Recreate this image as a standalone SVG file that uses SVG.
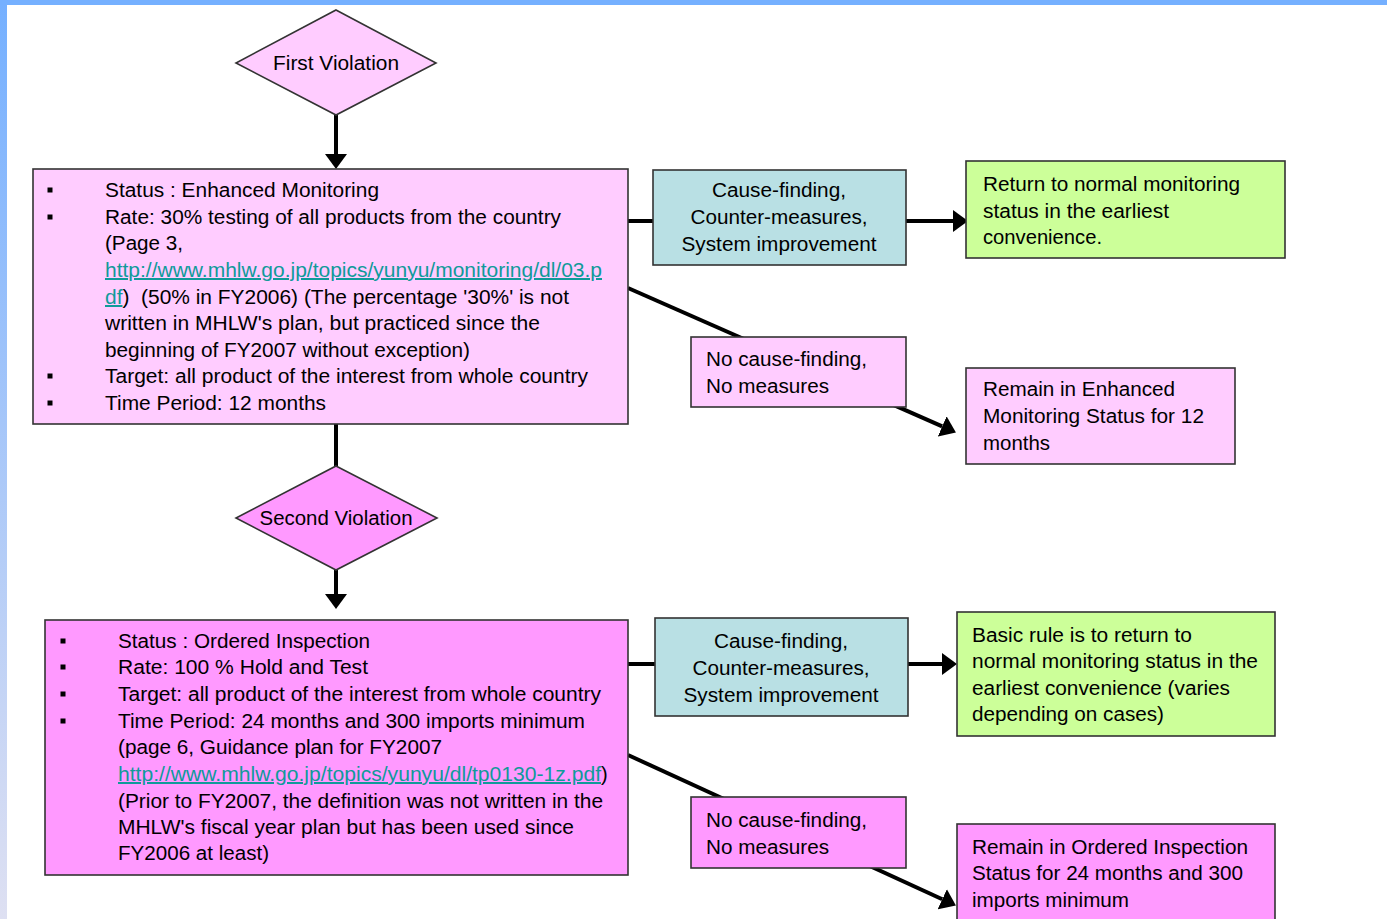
<svg xmlns="http://www.w3.org/2000/svg" width="1387" height="919" viewBox="0 0 1387 919">
<defs>
  <linearGradient id="sidebar" x1="0" y1="0" x2="0" y2="1">
    <stop offset="0" stop-color="#75b0ff"/>
    <stop offset="1" stop-color="#dee0f2"/>
  </linearGradient>
  <marker id="arrow" markerUnits="userSpaceOnUse" markerWidth="15" markerHeight="22" refX="0" refY="11" orient="auto" viewBox="0 0 15 22">
    <path d="M0,0 L15,11 L0,22 Z" fill="#000"/>
  </marker>
  <style>
    .t { font-family: "Liberation Sans", Arial, sans-serif; font-size: 20px; fill: #000; }
    .c { text-anchor: middle; }
    .link { fill: #109a9a; text-decoration: underline; }
    .box { stroke: #333; stroke-width: 1.6; }
    .lp { fill: #ffccff; }
    .dp { fill: #ff99ff; }
    .teal { fill: #b9e0e4; }
    .green { fill: #ccff99; }
    .conn { stroke: #000; stroke-width: 4; fill: none; }
    .bul { fill: #000; }
  </style>
</defs>
<rect x="0" y="0" width="1387" height="919" fill="#ffffff"/>
<rect x="0" y="0" width="7" height="919" fill="url(#sidebar)"/>
<rect x="0" y="0" width="1387" height="5" fill="#75b0ff"/>

<g id="connectors">
  <line class="conn" x1="336" y1="115" x2="336" y2="154" marker-end="url(#arrow)"/>
  <line class="conn" x1="628" y1="221" x2="653" y2="221"/>
  <line class="conn" x1="906" y1="221" x2="953" y2="221" marker-end="url(#arrow)"/>
  <line class="conn" x1="628" y1="288" x2="942.2" y2="426.4" marker-end="url(#arrow)"/>
  <line class="conn" x1="336" y1="424" x2="336" y2="466"/>
  <line class="conn" x1="336" y1="570" x2="336" y2="594" marker-end="url(#arrow)"/>
  <line class="conn" x1="628" y1="664" x2="655" y2="664"/>
  <line class="conn" x1="908" y1="664" x2="942" y2="664" marker-end="url(#arrow)"/>
  <line class="conn" x1="628" y1="755" x2="942.3" y2="899.2" marker-end="url(#arrow)"/>
</g>

<g id="first-violation">
  <polygon class="box lp" points="336,10 436,63 336,115 236,63"/>
  <text class="t c" x="336" y="70" textLength="126" lengthAdjust="spacingAndGlyphs">First Violation</text>
</g>

<g id="enhanced-monitoring">
  <rect class="box lp" x="33" y="169" width="595" height="255"/>
  <rect class="bul" x="47.5" y="187.5" width="5" height="5"/>
  <rect class="bul" x="47.5" y="214.5" width="5" height="5"/>
  <rect class="bul" x="47.5" y="373.5" width="5" height="5"/>
  <rect class="bul" x="47.5" y="400.5" width="5" height="5"/>
  <text class="t" x="105" y="197" textLength="274" lengthAdjust="spacingAndGlyphs">Status : Enhanced Monitoring</text>
  <text class="t" x="105" y="224" textLength="456" lengthAdjust="spacingAndGlyphs">Rate: 30% testing of all products from the country</text>
  <text class="t" x="105" y="250" textLength="78" lengthAdjust="spacingAndGlyphs">(Page 3,</text>
  <text class="t link" x="105" y="277" textLength="497" lengthAdjust="spacingAndGlyphs">http://www.mhlw.go.jp/topics/yunyu/monitoring/dl/03.p</text>
  <text class="t" x="105" y="304" xml:space="preserve" textLength="464" lengthAdjust="spacingAndGlyphs"><tspan class="link">df</tspan><tspan>)  (50% in FY2006) (The percentage '30%' is not</tspan></text>
  <text class="t" x="105" y="330" textLength="435" lengthAdjust="spacingAndGlyphs">written in MHLW's plan, but practiced since the</text>
  <text class="t" x="105" y="357" textLength="365" lengthAdjust="spacingAndGlyphs">beginning of FY2007 without exception)</text>
  <text class="t" x="105" y="383" textLength="483" lengthAdjust="spacingAndGlyphs">Target: all product of the interest from whole country</text>
  <text class="t" x="105" y="410" textLength="221" lengthAdjust="spacingAndGlyphs">Time Period: 12 months</text>
</g>

<g id="cause-1">
  <rect class="box teal" x="653" y="170" width="253" height="95"/>
  <text class="t c" x="779" y="197" textLength="134" lengthAdjust="spacingAndGlyphs">Cause-finding,</text>
  <text class="t c" x="779" y="224" textLength="177" lengthAdjust="spacingAndGlyphs">Counter-measures,</text>
  <text class="t c" x="779" y="251" textLength="195" lengthAdjust="spacingAndGlyphs">System improvement</text>
</g>

<g id="return-normal-1">
  <rect class="box green" x="966" y="161" width="319" height="97"/>
  <text class="t" x="983" y="191" textLength="257" lengthAdjust="spacingAndGlyphs">Return to normal monitoring</text>
  <text class="t" x="983" y="218" textLength="186" lengthAdjust="spacingAndGlyphs">status in the earliest</text>
  <text class="t" x="983" y="244" textLength="119" lengthAdjust="spacingAndGlyphs">convenience.</text>
</g>

<g id="no-cause-1">
  <rect class="box lp" x="691" y="337" width="215" height="70"/>
  <text class="t" x="706" y="366" textLength="161" lengthAdjust="spacingAndGlyphs">No cause-finding,</text>
  <text class="t" x="706" y="393" textLength="123" lengthAdjust="spacingAndGlyphs">No measures</text>
</g>

<g id="remain-enhanced">
  <rect class="box lp" x="966" y="368" width="269" height="96"/>
  <text class="t" x="983" y="396" textLength="192" lengthAdjust="spacingAndGlyphs">Remain in Enhanced</text>
  <text class="t" x="983" y="423" textLength="221" lengthAdjust="spacingAndGlyphs">Monitoring Status for 12</text>
  <text class="t" x="983" y="450" textLength="67" lengthAdjust="spacingAndGlyphs">months</text>
</g>

<g id="second-violation">
  <polygon class="box dp" points="336,466 437,518 336,570 236,518"/>
  <text class="t c" x="336" y="525" textLength="153" lengthAdjust="spacingAndGlyphs">Second Violation</text>
</g>

<g id="ordered-inspection">
  <rect class="box dp" x="45" y="620" width="583" height="255"/>
  <rect class="bul" x="60.5" y="638.5" width="5" height="5"/>
  <rect class="bul" x="60.5" y="664.5" width="5" height="5"/>
  <rect class="bul" x="60.5" y="691.5" width="5" height="5"/>
  <rect class="bul" x="60.5" y="718.5" width="5" height="5"/>
  <text class="t" x="118" y="648" textLength="252" lengthAdjust="spacingAndGlyphs">Status : Ordered Inspection</text>
  <text class="t" x="118" y="674" textLength="250" lengthAdjust="spacingAndGlyphs">Rate: 100 % Hold and Test</text>
  <text class="t" x="118" y="701" textLength="483" lengthAdjust="spacingAndGlyphs">Target: all product of the interest from whole country</text>
  <text class="t" x="118" y="728" textLength="467" lengthAdjust="spacingAndGlyphs">Time Period: 24 months and 300 imports minimum</text>
  <text class="t" x="118" y="754" textLength="324" lengthAdjust="spacingAndGlyphs">(page 6, Guidance plan for FY2007</text>
  <text class="t" x="118" y="781"><tspan class="link" textLength="483" lengthAdjust="spacingAndGlyphs">http://www.mhlw.go.jp/topics/yunyu/dl/tp0130-1z.pdf</tspan><tspan>)</tspan></text>
  <text class="t" x="118" y="808" textLength="485" lengthAdjust="spacingAndGlyphs">(Prior to FY2007, the definition was not written in the</text>
  <text class="t" x="118" y="834" textLength="456" lengthAdjust="spacingAndGlyphs">MHLW's fiscal year plan but has been used since</text>
  <text class="t" x="118" y="860" textLength="151" lengthAdjust="spacingAndGlyphs">FY2006 at least)</text>
</g>

<g id="cause-2">
  <rect class="box teal" x="655" y="618" width="253" height="98"/>
  <text class="t c" x="781" y="648" textLength="134" lengthAdjust="spacingAndGlyphs">Cause-finding,</text>
  <text class="t c" x="781" y="675" textLength="177" lengthAdjust="spacingAndGlyphs">Counter-measures,</text>
  <text class="t c" x="781" y="702" textLength="195" lengthAdjust="spacingAndGlyphs">System improvement</text>
</g>

<g id="return-normal-2">
  <rect class="box green" x="957" y="612" width="318" height="124"/>
  <text class="t" x="972" y="642" textLength="220" lengthAdjust="spacingAndGlyphs">Basic rule is to return to</text>
  <text class="t" x="972" y="668" textLength="286" lengthAdjust="spacingAndGlyphs">normal monitoring status in the</text>
  <text class="t" x="972" y="695" textLength="258" lengthAdjust="spacingAndGlyphs">earliest convenience (varies</text>
  <text class="t" x="972" y="721" textLength="192" lengthAdjust="spacingAndGlyphs">depending on cases)</text>
</g>

<g id="no-cause-2">
  <rect class="box dp" x="691" y="797" width="215" height="71"/>
  <text class="t" x="706" y="827" textLength="161" lengthAdjust="spacingAndGlyphs">No cause-finding,</text>
  <text class="t" x="706" y="854" textLength="123" lengthAdjust="spacingAndGlyphs">No measures</text>
</g>

<g id="remain-ordered">
  <rect class="box dp" x="957" y="824" width="318" height="110"/>
  <text class="t" x="972" y="854" textLength="276" lengthAdjust="spacingAndGlyphs">Remain in Ordered Inspection</text>
  <text class="t" x="972" y="880" textLength="271" lengthAdjust="spacingAndGlyphs">Status for 24 months and 300</text>
  <text class="t" x="972" y="907" textLength="157" lengthAdjust="spacingAndGlyphs">imports minimum</text>
</g>
</svg>
